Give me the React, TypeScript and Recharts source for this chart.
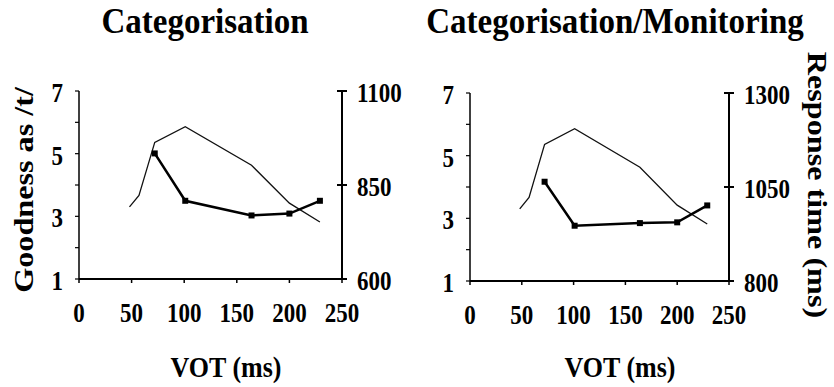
import React from 'react';
import { LineChart, Line, XAxis, YAxis } from 'recharts';

// VOT steps (ms) shared by both panels
const vot = [48, 57, 72, 101, 164, 200, 229];
// goodness rating as /t/ (thin line)
const goodness = [3.3, 3.67, 5.36, 5.86, 4.63, 3.42, 2.82];
// response times (thick line with squares), no RT for the first two steps
const rtCategorisation = [null, null, 934, 808, 769, 774, 808];
const rtMonitoring = [null, null, 1064, 947, 954, 956, 1001];

const votTicks = [0, 50, 100, 150, 200, 250];
const goodnessTicks = [1, 2, 3, 4, 5, 6, 7];
const goodnessLabels = [1, 3, 5, 7];
const rtTicksCat = [600, 850, 1100];
const rtTicksMon = [800, 1050, 1300];

const titles = ['Categorisation', 'Categorisation/Monitoring'];

const FONT = '"Liberation Serif", "Times New Roman", serif';
const STRETCH = 1.15;

const catData = vot.map((v, i) => ({ vot: v, good: goodness[i], rt: rtCategorisation[i] }));
const monData = vot.map((v, i) => ({ vot: v, good: goodness[i], rt: rtMonitoring[i] }));

const XTick = (props: any) => {
  const { x, y, payload } = props;
  return (
    <text
      transform={`translate(${x},${y}) scale(1,${STRETCH})`}
      textAnchor="middle"
      dy="0.71em"
      fontFamily={FONT}
      fontWeight="bold"
      fontSize={23}
      fill="#000"
    >
      {payload.value}
    </text>
  );
};

const LeftTick = (props: any) => {
  const { x, y, payload } = props;
  if (!goodnessLabels.includes(payload.value)) return <g />;
  return (
    <text
      transform={`translate(${x},${y}) scale(1,${STRETCH})`}
      textAnchor="end"
      dy="0.42em"
      fontFamily={FONT}
      fontWeight="bold"
      fontSize={23}
      fill="#000"
    >
      {payload.value}
    </text>
  );
};

const RightTick = (props: any) => {
  const { x, y, payload } = props;
  const ax = x - 15;
  return (
    <g>
      <line x1={ax - 5} x2={ax + 5} y1={y} y2={y} stroke="#000" strokeWidth={2} />
      <text
        transform={`translate(${x},${y}) scale(1,${STRETCH})`}
        textAnchor="start"
        dy="0.42em"
        fontFamily={FONT}
        fontWeight="bold"
        fontSize={23}
        fill="#000"
      >
        {payload.value}
      </text>
    </g>
  );
};

const SquareDot = (props: any) => {
  const { cx, cy, index } = props;
  if (cx == null || cy == null) return <g key={index} />;
  return <rect key={index} x={cx - 3} y={cy - 3} width={6} height={6} fill="#000" />;
};

type PanelProps = {
  data: any[];
  rtTicks: number[];
  left: number;
  width: number;
  leftAxisW: number;
  rightAxisW: number;
  top: number;
  bottom: number;
};

function Panel({ data, rtTicks, left, width, leftAxisW, rightAxisW, top, bottom }: PanelProps) {
  return (
    <div style={{ position: 'absolute', left, top: 0 }}>
      <LineChart width={width} height={340} data={data} margin={{ top, right: 0, bottom, left: 0 }}>
        <XAxis
          dataKey="vot"
          type="number"
          domain={[0, 250]}
          ticks={votTicks}
          height={40}
          tick={<XTick />}
          tickSize={4}
          tickMargin={20}
          axisLine={{ stroke: '#000', strokeWidth: 2 }}
          tickLine={{ stroke: '#000', strokeWidth: 1.5 }}
        />
        <YAxis
          yAxisId="left"
          orientation="left"
          domain={[1, 7]}
          ticks={goodnessTicks}
          width={leftAxisW}
          tick={<LeftTick />}
          tickSize={4}
          tickMargin={12}
          axisLine={{ stroke: '#000', strokeWidth: 1.5 }}
          tickLine={{ stroke: '#000', strokeWidth: 1.2 }}
          interval={0}
        />
        <YAxis
          yAxisId="right"
          orientation="right"
          domain={[rtTicks[0], rtTicks[2]]}
          ticks={rtTicks}
          width={rightAxisW}
          tick={<RightTick />}
          tickSize={5}
          tickMargin={10}
          tickLine={false}
          axisLine={{ stroke: '#000', strokeWidth: 2 }}
          interval={0}
        />
        <Line
          yAxisId="left"
          dataKey="good"
          type="linear"
          stroke="#111"
          strokeWidth={1.3}
          dot={false}
          isAnimationActive={false}
        />
        <Line
          yAxisId="right"
          dataKey="rt"
          type="linear"
          stroke="#000"
          strokeWidth={2.5}
          connectNulls
          dot={<SquareDot />}
          isAnimationActive={false}
        />
      </LineChart>
    </div>
  );
}

const textStyle = { fontFamily: FONT, fontWeight: 'bold' as const, fill: '#000' };

export default function App() {
  return (
    <div style={{ position: 'absolute', left: 0, top: 0, width: 834, height: 387, background: '#fff', overflow: 'hidden' }}>
      <Panel data={catData} rtTicks={rtTicksCat} left={0} width={430} leftAxisW={79} rightAxisW={88} top={91} bottom={21} />
      <Panel data={monData} rtTicks={rtTicksMon} left={430} width={404} leftAxisW={40} rightAxisW={105} top={93} bottom={19} />
      <svg width={834} height={387} style={{ position: 'absolute', left: 0, top: 0, pointerEvents: 'none' }}>
        <text transform="translate(205,33) scale(1,1.08)" textAnchor="middle" fontSize={33} {...textStyle}>
          {titles[0]}
        </text>
        <text transform="translate(615,33) scale(1,1.08)" textAnchor="middle" fontSize={33} {...textStyle}>
          {titles[1]}
        </text>
        <text transform={`translate(33,190) scale(1,${STRETCH}) rotate(-90)`} textAnchor="middle" fontSize={28} {...textStyle}>
          Goodness as /t/
        </text>
        <text transform={`translate(808,185) scale(1,${STRETCH}) rotate(90)`} textAnchor="middle" fontSize={28} {...textStyle}>
          Response time (ms)
        </text>
        <text transform={`translate(226,377) scale(1,${STRETCH})`} textAnchor="middle" fontSize={26} {...textStyle}>
          VOT (ms)
        </text>
        <text transform={`translate(620,377) scale(1,${STRETCH})`} textAnchor="middle" fontSize={26} {...textStyle}>
          VOT (ms)
        </text>
      </svg>
    </div>
  );
}
